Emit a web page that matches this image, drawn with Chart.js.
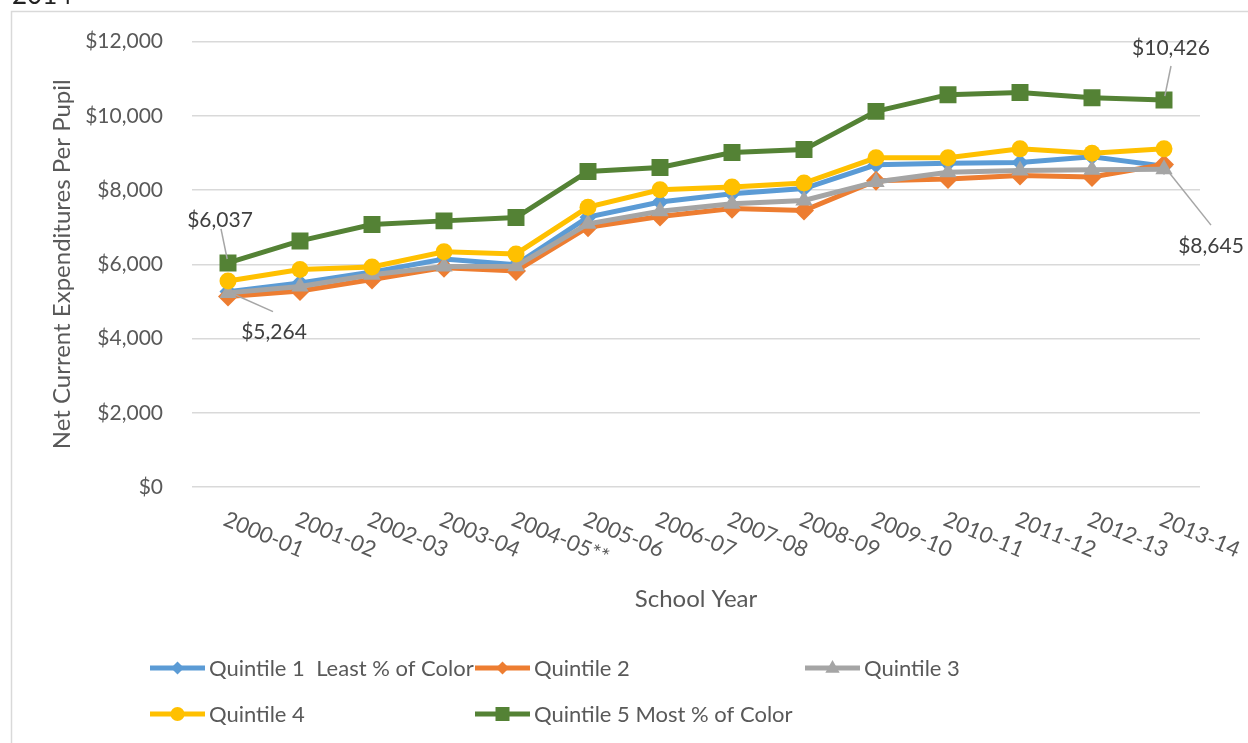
<!DOCTYPE html>
<html>
<head>
<meta charset="utf-8">
<script src="https://cdn.jsdelivr.net/npm/chart.js@4.4.1/dist/chart.umd.min.js"></script>
<style>
  html, body { margin: 0; padding: 0; background: #fff; }
  #wrap { width: 1248px; height: 743px; }
</style>
</head>
<body>
<div id="wrap"><canvas id="lineChart" width="1248" height="743"></canvas></div>
<script>
// school years on the x axis
const years = ["2000-01", "2001-02", "2002-03", "2003-04", "2004-05**", "2005-06", "2006-07",
  "2007-08", "2008-09", "2009-10", "2010-11", "2011-12", "2012-13", "2013-14"];

// net current expenditures per pupil
const quintile1 = [5264, 5500, 5790, 6140, 5990, 7270, 7680, 7900, 8040, 8680, 8720, 8740, 8900, 8645];
const quintile2 = [5130, 5280, 5590, 5910, 5820, 7000, 7290, 7500, 7450, 8250, 8300, 8390, 8350, 8690];
const quintile3 = [5230, 5400, 5720, 5940, 5950, 7090, 7430, 7630, 7720, 8220, 8480, 8530, 8550, 8560];
const quintile4 = [5550, 5860, 5930, 6340, 6280, 7540, 8010, 8080, 8190, 8870, 8870, 9110, 8990, 9110];
const quintile5 = [6037, 6630, 7070, 7170, 7260, 8500, 8610, 9010, 9090, 10120, 10570, 10630, 10490, 10426];

const seriesNames = ["Quintile 1  Least % of Color", "Quintile 2", "Quintile 3", "Quintile 4", "Quintile 5 Most % of Color"];
const yTicks = [0, 2000, 4000, 6000, 8000, 10000, 12000];

const FONT = "Lato";
const textGray = "#595959";

function money(v) {
  return "$" + v.toLocaleString("en-US");
}

function drawMarker(ctx, style, x, y, r, color) {
  ctx.fillStyle = color;
  ctx.beginPath();
  if (style === "circle") {
    ctx.arc(x, y, r, 0, Math.PI * 2);
  } else if (style === "rectRot") {
    ctx.moveTo(x, y - r); ctx.lineTo(x + r, y); ctx.lineTo(x, y + r); ctx.lineTo(x - r, y);
  } else if (style === "triangle") {
    ctx.moveTo(x, y - r); ctx.lineTo(x + r * 0.9, y + r * 0.6); ctx.lineTo(x - r * 0.9, y + r * 0.6);
  } else {
    ctx.rect(x - r * 0.7, y - r * 0.7, r * 1.4, r * 1.4);
  }
  ctx.closePath();
  ctx.fill();
}

// frame of the chart box + the cut off title above it
const frame = {
  id: "frame",
  beforeDraw(chart) {
    const ctx = chart.ctx;
    ctx.save();
    ctx.fillStyle = "#fff";
    ctx.fillRect(0, 0, chart.width, chart.height);
    ctx.fillStyle = "#222";
    ctx.font = "26px " + FONT;
    ctx.textBaseline = "alphabetic";
    ctx.fillText("2014", 12, 4);
    ctx.strokeStyle = "#d9d9d9";
    ctx.lineWidth = 1.5;
    ctx.strokeRect(11.5, 11.5, 1240, 740);
    ctx.restore();
  }
};

// excel style x labels, rotated downwards
const xLabels = {
  id: "xLabels",
  afterDraw(chart) {
    const ctx = chart.ctx;
    const xs = chart.scales.x;
    const area = chart.chartArea;
    ctx.save();
    ctx.fillStyle = textGray;
    ctx.font = "22px " + FONT;
    ctx.textAlign = "left";
    ctx.textBaseline = "top";
    years.forEach((lab, i) => {
      ctx.save();
      ctx.translate(xs.getPixelForValue(i) + 1, area.bottom + 21);
      ctx.rotate(23 * Math.PI / 180);
      ctx.fillText(lab, 0, 0);
      ctx.restore();
    });
    ctx.font = "24px " + FONT;
    ctx.textAlign = "center";
    ctx.textBaseline = "middle";
    ctx.fillText("School Year", (area.left + area.right) / 2, 599);
    ctx.restore();
  }
};

// value callouts with leader lines
const callouts = [
  { ds: 4, idx: 0, dx: -8, dy: -43, lx: -7, ly: -34 },
  { ds: 0, idx: 0, dx: 46, dy: 41, lx: 45, ly: 20 },
  { ds: 4, idx: 13, dx: 7, dy: -52, lx: 7, ly: -34 },
  { ds: 0, idx: 13, dx: 47, dy: 80, lx: 47, ly: 59 }
];
const calloutPlugin = {
  id: "callouts",
  afterDatasetsDraw(chart) {
    const ctx = chart.ctx;
    ctx.save();
    callouts.forEach(c => {
      const pt = chart.getDatasetMeta(c.ds).data[c.idx];
      const value = chart.data.datasets[c.ds].data[c.idx];
      const ang = Math.atan2(c.ly, c.lx);
      ctx.strokeStyle = "#a6a6a6";
      ctx.lineWidth = 1.5;
      ctx.beginPath();
      ctx.moveTo(pt.x + Math.cos(ang) * 4, pt.y + Math.sin(ang) * 4);
      ctx.lineTo(pt.x + c.lx, pt.y + c.ly);
      ctx.stroke();
      ctx.fillStyle = "#404040";
      ctx.font = "21px " + FONT;
      ctx.textAlign = "center";
      ctx.textBaseline = "middle";
      ctx.fillText(money(value), pt.x + c.dx, pt.y + c.dy);
    });
    ctx.restore();
  }
};

// legend laid out in a grid like the excel one
const legendGrid = {
  id: "legendGrid",
  afterDraw(chart) {
    const ctx = chart.ctx;
    const cols = [150, 475, 805];
    const rows = [668, 714];
    const slots = [[0, 0], [1, 0], [2, 0], [0, 1], [1, 1]];
    ctx.save();
    chart.data.datasets.forEach((ds, i) => {
      const x = cols[slots[i][0]];
      const y = rows[slots[i][1]];
      ctx.strokeStyle = ds.borderColor;
      ctx.lineWidth = ds.borderWidth;
      ctx.beginPath();
      ctx.moveTo(x, y);
      ctx.lineTo(x + 55, y);
      ctx.stroke();
      drawMarker(ctx, ds.pointStyle, x + 27.5, y, ds.legendRadius, ds.backgroundColor);
      ctx.fillStyle = textGray;
      ctx.font = "22px " + FONT;
      ctx.textAlign = "left";
      ctx.textBaseline = "middle";
      ctx.fillText(ds.label, x + 59, y + 1);
    });
    ctx.restore();
  }
};

const colors = ["#5B9BD5", "#ED7D31", "#A5A5A5", "#FFC000", "#548235"];
const styles = ["rectRot", "rectRot", "triangle", "circle", "rect"];
const radii = [8.5, 10, 10, 8.5, 12];
const legendRadii = [6.5, 6.5, 8, 7, 10];
const values = [quintile1, quintile2, quintile3, quintile4, quintile5];

const datasets = values.map((v, i) => ({
  label: seriesNames[i],
  data: v,
  borderColor: colors[i],
  backgroundColor: colors[i],
  borderWidth: 5,
  pointStyle: styles[i],
  pointRadius: radii[i],
  pointBorderWidth: 0,
  pointBackgroundColor: colors[i],
  legendRadius: legendRadii[i],
  tension: 0,
  order: 5 - i
}));

new Chart(document.getElementById("lineChart"), {
  type: "line",
  data: { labels: years, datasets: datasets },
  options: {
    responsive: false,
    animation: false,
    events: [],
    layout: { padding: { top: 41, right: 48, bottom: 0, left: 0 } },
    plugins: { legend: { display: false }, tooltip: { enabled: false } },
    scales: {
      x: {
        type: "category",
        offset: true,
        grid: { display: false },
        border: { display: false },
        ticks: { display: false },
        afterFit(s) { s.height = 256; }
      },
      y: {
        min: 0,
        max: 12000,
        afterBuildTicks(s) { s.ticks = yTicks.map(v => ({ value: v })); },
        ticks: {
          padding: 29,
          color: textGray,
          font: { family: FONT, size: 21 },
          callback: v => money(v)
        },
        grid: { color: "#d9d9d9", lineWidth: 1.5, drawTicks: false },
        border: { display: false },
        title: {
          display: true,
          text: "Net Current Expenditures Per Pupil",
          color: textGray,
          font: { family: FONT, size: 24 },
          padding: { top: 48, bottom: 0 }
        },
        afterFit(s) { s.width = 192; }
      }
    }
  },
  plugins: [frame, calloutPlugin, xLabels, legendGrid]
});
</script>
</body>
</html>
